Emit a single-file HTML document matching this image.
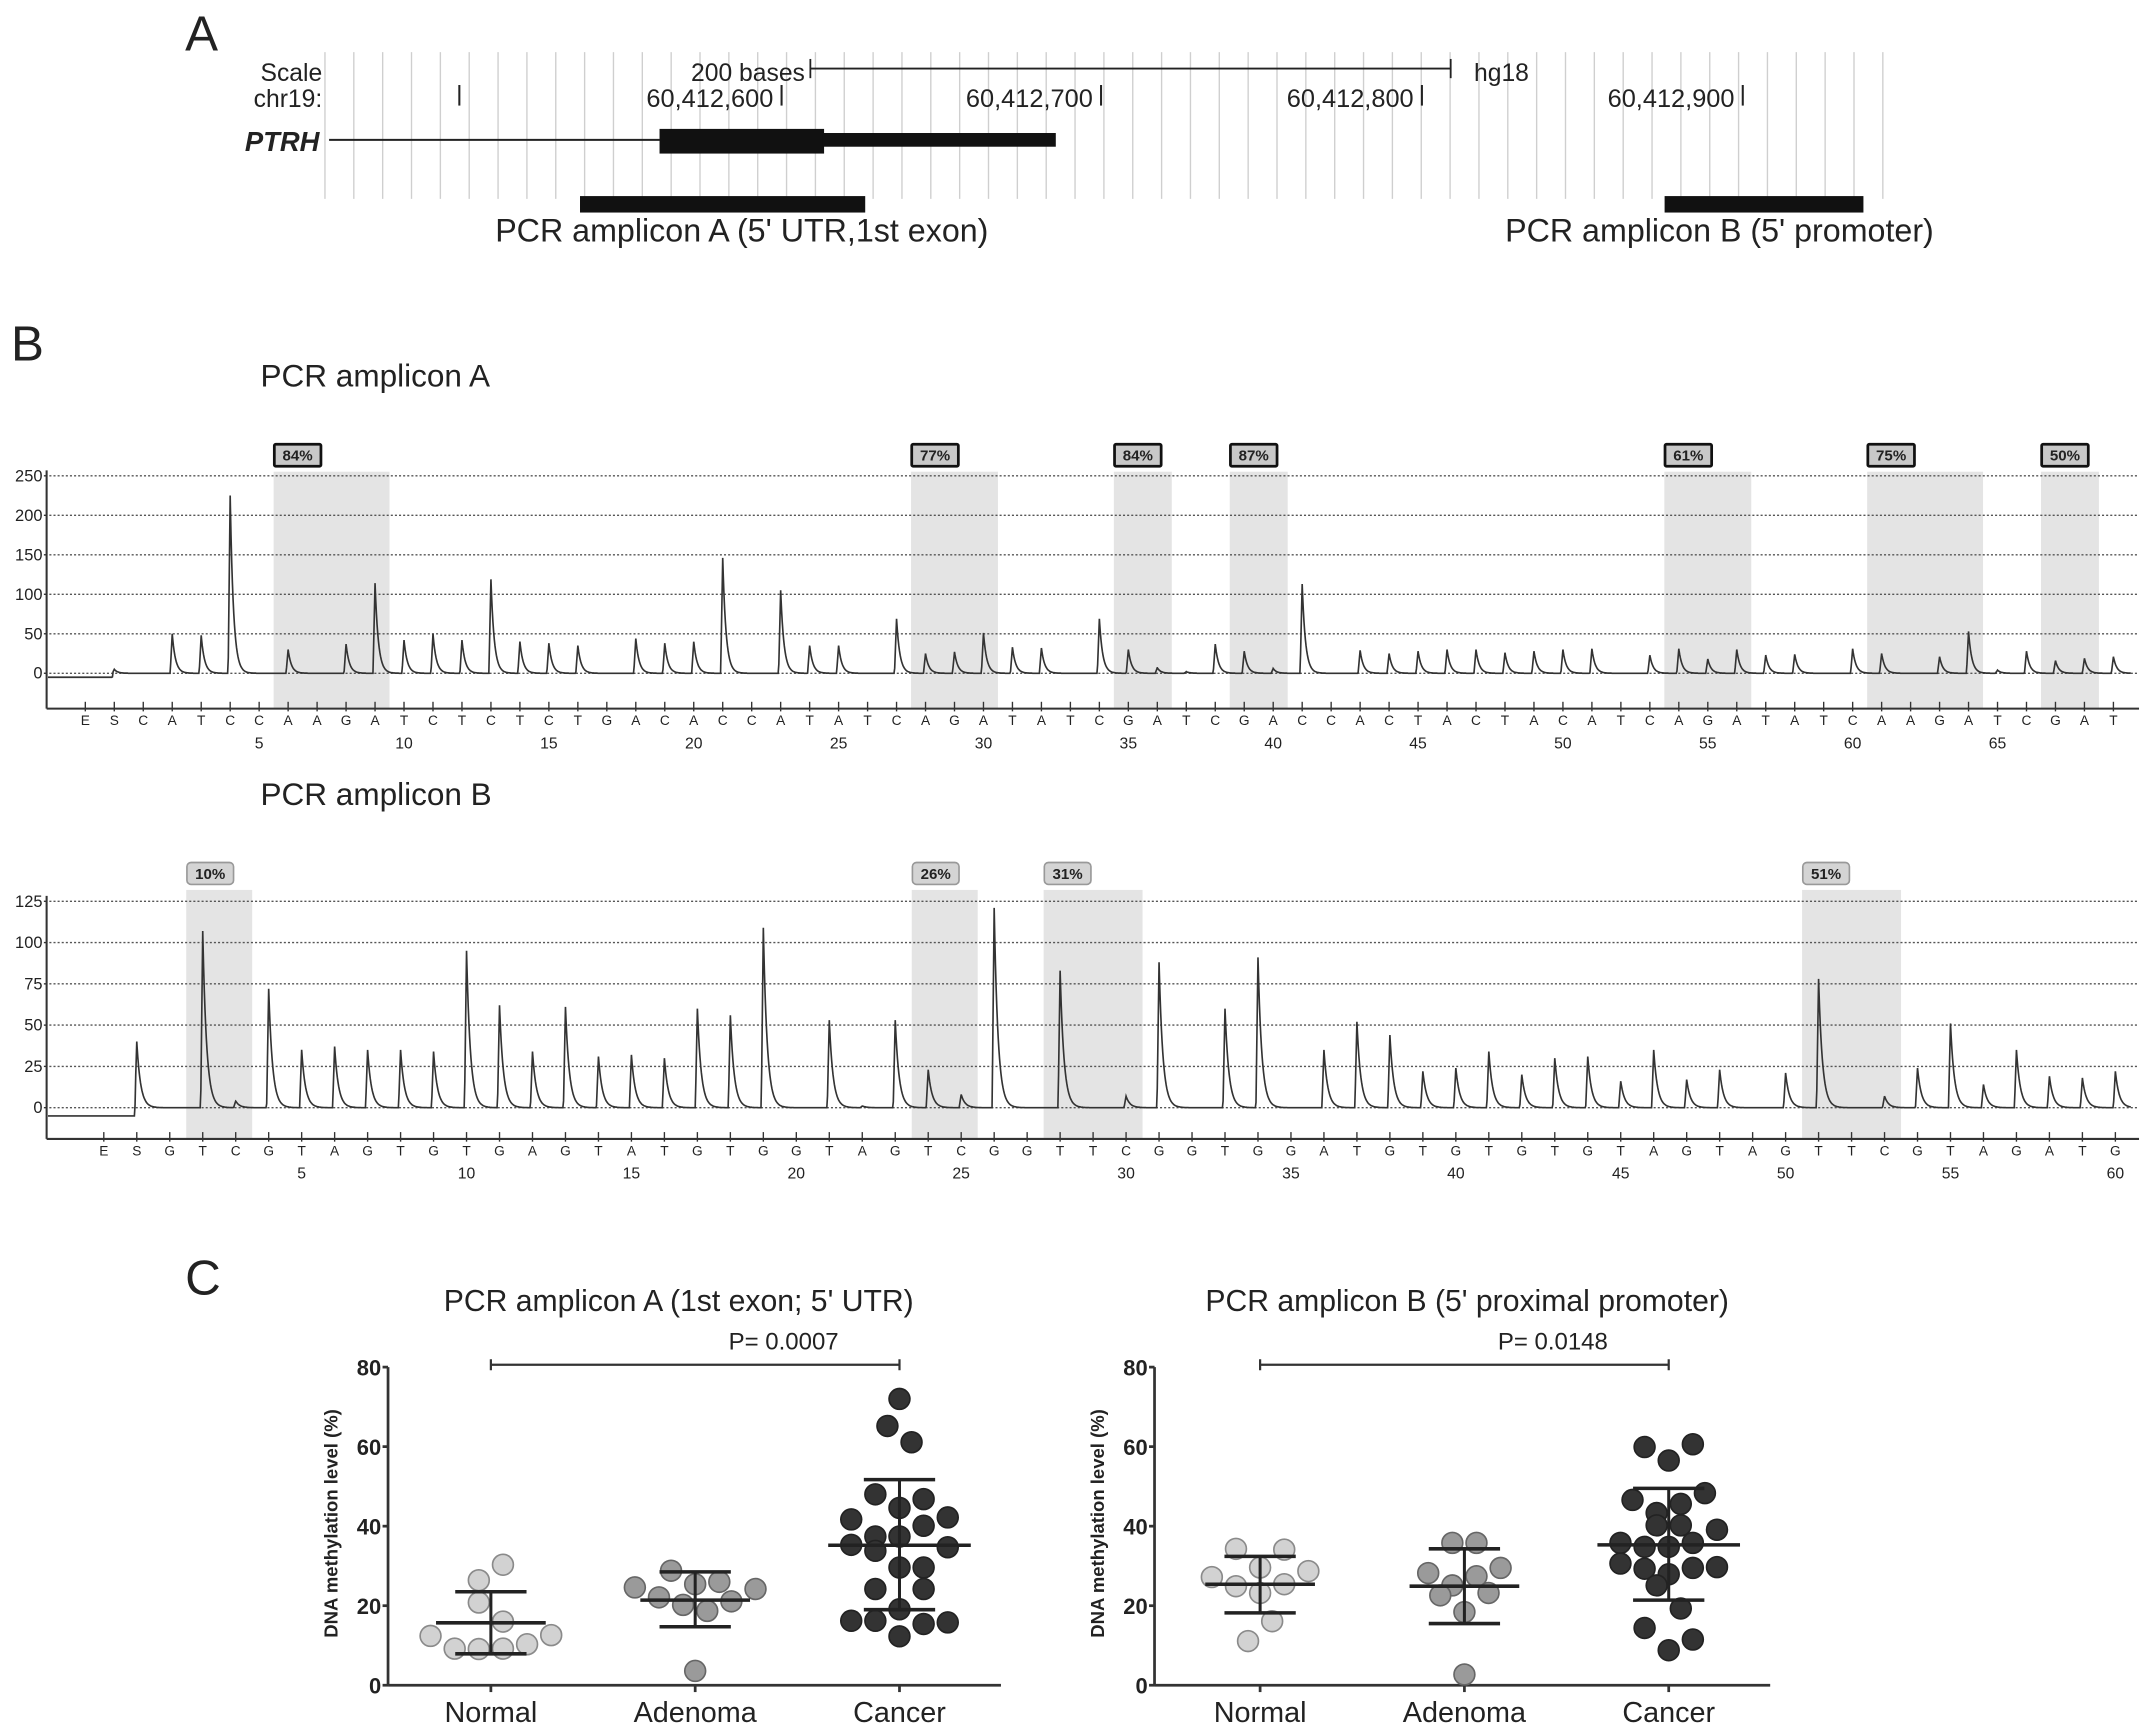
<!DOCTYPE html>
<html><head><meta charset="utf-8">
<style>
html,body{margin:0;padding:0;background:#fff;}
svg{display:block;}
text{font-family:"Liberation Sans",sans-serif;fill:#222;}
</style></head>
<body>
<svg id="fig" xmlns="http://www.w3.org/2000/svg" width="2150" height="1735" viewBox="0 0 1568 1265.3" preserveAspectRatio="none">
<rect x="0" y="0" width="1568" height="1266" fill="#fff"/>
<g id="panelA">
  <text x="135" y="37" font-size="36">A</text>
  <g id="gridA"></g>
  <text x="235" y="59" font-size="18" text-anchor="end">Scale</text>
  <text x="235" y="78" font-size="18" text-anchor="end">chr19:</text>
  <text x="587" y="59" font-size="18" text-anchor="end">200 bases</text>
  <line x1="591" y1="50" x2="1058" y2="50" stroke="#222" stroke-width="1.3"/>
  <line x1="591" y1="43" x2="591" y2="57" stroke="#222" stroke-width="1.3"/>
  <line x1="1058" y1="43" x2="1058" y2="57" stroke="#222" stroke-width="1.3"/>
  <text x="1075" y="59" font-size="18">hg18</text>
  <g id="coordsA"></g>
  <text x="233" y="110" font-size="20" font-weight="bold" font-style="italic" text-anchor="end">PTRH</text>
  <line x1="240" y1="102" x2="481" y2="102" stroke="#222" stroke-width="1.4"/>
  <rect x="481" y="94" width="120" height="18" fill="#111"/>
  <rect x="600" y="97" width="170" height="10" fill="#111"/>
  <rect x="423" y="143" width="208" height="12" fill="#111"/>
  <rect x="1214" y="143" width="145" height="12" fill="#111"/>
  <text x="541" y="176" font-size="23.5" text-anchor="middle">PCR amplicon A (5' UTR,1st exon)</text>
  <text x="1254" y="176" font-size="23.5" text-anchor="middle">PCR amplicon B (5' promoter)</text>
</g>
<text x="8" y="263" font-size="36">B</text>
<text x="190" y="282" font-size="23">PCR amplicon A</text>
<g id="pyroA"></g>
<text x="190" y="587" font-size="23">PCR amplicon B</text>
<g id="pyroB"></g>
<text x="135" y="944" font-size="36">C</text>
<g id="scatA"></g>
<g id="scatB"></g>
</svg>
<script>
// ---------- Pyrogram data ----------
const seqA = "ESCATCCAAGATCTCTCTGACACCATATCAGATATCGATCGACCACTACTACATCAGATATCAAGATCGAT";
const heightsA = [5,0,50,48,225,0,30,0,37,114,42,50,42,119,40,38,35,0,44,38,40,146,0,105,35,35,0,69,25,27,51,33,32,0,69,30,7,2,37,28,6,113,0,29,25,28,30,30,26,28,30,31,0,23,31,18,30,23,24,0,31,25,0,21,53,4,28,16,19,21];
const yTicksA = [0,50,100,150,200,250];
const shadeStartA = [6,28,35,39,54,61,67];
const shadeEndA = [9,30,36,40,56,64,68];
const shadeLabelsA = ["84%","77%","84%","87%","61%","75%","50%"];

const seqB = "ESGTCGTAGTGTGAGTATGTGGTAGTCGGTTCGGTGGATGTGTGTGTAGTAGTTCGTAGATG";
const heightsB = [40,0,107,4,72,35,37,35,35,34,95,62,34,61,31,32,30,60,56,109,0,53,1,53,23,8,121,0,83,0,7,88,0,60,91,0,35,52,44,22,24,34,20,30,31,16,35,17,23,0,21,78,0,7,24,51,14,35,19,18,22];
const yTicksB = [0,25,50,75,100,125];
const shadeStartB = [2,24,28,51];
const shadeEndB = [3,25,30,53];
const shadeLabelsB = ["10%","26%","31%","51%"];

// ---------- Scatter data ----------
const groups = ["Normal","Adenoma","Cancer"];
const aNormal = [30.3,26.4,20.8,16.0,12.4,12.6,10.3,9.2,9.1,9.2];
const aAdenoma = [28.8,25.4,26.0,24.6,24.2,22.1,20.2,21.1,18.7,3.6];
const aCancer = [72,65.2,61.1,48,46.8,44.6,41.7,40.1,42.2,35.3,37.4,37.4,33.8,34.7,29.6,29.6,24.2,24.2,19.1,16.2,16.2,15.4,15.8,12.3];
const aMean = [15.7,21.4,35.2];
const aSdHi = [23.5,28.5,51.7];
const aSdLo = [7.9,14.7,19.0];
const bNormal = [34.3,34.1,29.6,28.7,27.2,24.9,25.4,23.2,16.1,11.1];
const bAdenoma = [35.8,35.8,28.2,29.5,27.4,25.1,22.6,23.2,18.4,2.7];
const bCancer = [59.9,60.6,56.5,48.3,46.6,45.6,43.3,40.2,40.2,39.1,35.8,34.8,34.8,35.8,30.6,29.3,29.5,29.7,27.9,25.1,19.3,14.4,11.5,8.8];
const bMean = [25.4,24.9,35.3];
const bSdHi = [32.4,34.3,49.5];
const bSdLo = [18.2,15.5,21.4];
const yTicksC = [0,20,40,60,80];
// beeswarm jitter (in dot-widths)
const jitA = [[0.5,-0.5,-0.5,0.5,-2.5,2.5,1.5,-1.5,-0.5,0.5],[-1,0,1,-2.5,2.5,-1.5,-0.5,1.5,0.5,0],[0,-0.5,0.5,-1,1,0,-2,1,2,-2,-1,0,-1,2,0,1,-1,1,0,-2,-1,1,2,0]];
const jitB = [[-1,1,0,2,-2,-1,1,0,0.5,-0.5],[-0.5,0.5,-1.5,1.5,0.5,-0.5,-1,1,0,0],[-1,1,0,1.5,-1.5,0.5,-0.5,-0.5,0.5,2,-2,-1,0,1,-2,-1,1,2,0,-0.5,0.5,-1,1,0]];

const NS = "http://www.w3.org/2000/svg";
function mk(tag, attrs, parent){const e=document.createElementNS(NS,tag);for(const k in attrs)e.setAttribute(k,attrs[k]);parent.appendChild(e);return e;}

// ---------- Panel A grid ----------
(function(){
  const g=document.getElementById('gridA');
  for(let x=237;x<=1394;x+=21.04){
    const l=mk('line',{x1:x,y1:38,x2:x,y2:145,stroke:'#cfcfcf','stroke-width':1},g);
    
    
  }
  const c=document.getElementById('coordsA');
  const tickX=[335,570,803,1037,1271];
  const labs=["","60,412,600","60,412,700","60,412,800","60,412,900"];
  tickX.forEach((x,i)=>{
    const l=mk('line',{x1:x,y1:62,x2:x,y2:77,stroke:'#222','stroke-width':1.5},c);
    
    
    if(labs[i]){const t=mk('text',{x:x-6,y:78,'font-size':18.5,'text-anchor':'end'},c);t.textContent=labs[i];
    
    }
  });
})();

// ---------- Pyrograms ----------
function pyro(gid, seq, heights, yTicks, y0, pxPerUnit, xk, axisY, shadeTop, sS, sE, sL, boxY, lightBoxes, tau){
  const g=document.getElementById(gid);
  const yS=v=>y0-v*pxPerUnit;
  const xL=34, xR=1560;
  const half=(xk(1)-xk(0))/2;
  sS.forEach((s,i)=>{
    const x1=xk(s)-half, x2=xk(sE[i])+half;
    const r=mk('rect',{x:x1,y:shadeTop,width:x2-x1,height:axisY-shadeTop,fill:'#e4e4e4'},g);
    
    
    const b=mk('rect',{x:x1+0.5,y:boxY,width:34,height:16,rx:lightBoxes?3:1,fill:lightBoxes?'#d4d4d4':'#c8c8c8',stroke:lightBoxes?'#999':'#111','stroke-width':lightBoxes?1.2:2},g);
    
    
    const t=mk('text',{x:x1+17.5,y:boxY+12,'font-size':11,'font-weight':'bold','text-anchor':'middle'},g);
    t.textContent=sL[i];
    
    
  });
  yTicks.forEach(v=>{
    const l=mk('line',{x1:xL+2,y1:yS(v),x2:xR,y2:yS(v),stroke:'#555','stroke-width':1,'stroke-dasharray':'1.5 1.5'},g);
    
    
    const t=mk('text',{x:xL-3,y:yS(v)+4,'font-size':12,'text-anchor':'end',fill:'#333'},g);
    t.textContent=v;
    
    
    mk('line',{x1:xL-2,y1:yS(v),x2:xL,y2:yS(v),stroke:'#333'},g);
  });
  const ya=mk('line',{x1:xL,y1:yS(yTicks[yTicks.length-1])-4,x2:xL,y2:axisY,stroke:'#333','stroke-width':1.5},g);
  
  
  const xa=mk('line',{x1:xL,y1:axisY,x2:xR,y2:axisY,stroke:'#333','stroke-width':1.5},g);
  
  
  for(let i=0;i<seq.length;i++){
    const k=i-1, x=xk(k);
    mk('line',{x1:x,y1:axisY-5,x2:x,y2:axisY+2,stroke:'#333','stroke-width':1},g);
    const t=mk('text',{x:x,y:axisY+12,'font-size':10,'text-anchor':'middle',fill:'#333','font-family':'Liberation Mono, monospace'},g);
    t.textContent=seq[i];
    
    
    if(k>0 && k%5===0){
      const n=mk('text',{x:x,y:axisY+29,'font-size':11.5,'text-anchor':'middle',fill:'#333'},g);
      n.textContent=k;
      
      
    }
  }
  const xs=[];
  for(let x=xL+1;x<=xR-6;x+=0.5) xs.push(x);
  for(let k=0;k<heights.length;k++) if(heights[k]) xs.push(xk(k));
  xs.sort((a,b)=>a-b);
  let d='';
  xs.forEach(x=>{
    let v=(x<xk(0)-1)?-5:0;
    for(let k=0;k<heights.length;k++){
      const h=heights[k]; if(!h) continue;
      const dd=x-xk(k);
      if(dd>=-1.5&&dd<0) v+=h*(1+dd/1.5);
      else if(dd>=0&&dd<40) v+=h*Math.exp(-dd/tau);
    }
    d+=(d?'L':'M')+x.toFixed(2)+','+yS(v).toFixed(1);
  });
  const p=mk('path',{d:d,fill:'none',stroke:'#333','stroke-width':1.2},g);
  
  
}
pyro('pyroA',seqA,heightsA,yTicksA,491,(491-347)/250,k=>189+(k-5)*21.13,516.8,344,shadeStartA,shadeEndA,shadeLabelsA,324,false,2.4);
pyro('pyroB',seqB,heightsB,yTicksB,807.8,(807.8-657.3)/125,k=>75.7+(k+1)*24.05,830.6,649,shadeStartB,shadeEndB,shadeLabelsB,629,true,2.8);

// ---------- Scatter plots ----------
function scatter(gid, axX, catX, endX, titleX, title, pText, series, jit, means, hi, lo){
  const g=document.getElementById(gid);
  const y0=1229, y80=997;
  const yS=v=>y0-(v/80)*(y0-y80);
  const tt=mk('text',{x:titleX,y:956,'font-size':22,'text-anchor':'middle'},g);
  tt.textContent=title;
  
  
  const ya=mk('line',{x1:axX,y1:y80,x2:axX,y2:y0,stroke:'#333','stroke-width':2},g);
  
  
  const xa=mk('line',{x1:axX,y1:y0,x2:endX,y2:y0,stroke:'#333','stroke-width':2},g);
  
  
  yTicksC.forEach(v=>{
    mk('line',{x1:axX-4,y1:yS(v),x2:axX,y2:yS(v),stroke:'#333','stroke-width':2},g);
    const t=mk('text',{x:axX-5,y:yS(v)+6,'font-size':16,'font-weight':'bold','text-anchor':'end'},g);
    t.textContent=v;
    
    
  });
  const yl=mk('text',{x:0,y:0,'font-size':13.5,'font-weight':'bold','text-anchor':'middle',transform:`translate(${axX-37},1111) rotate(-90)`},g);
  yl.textContent='DNA methylation level (%)';
  
  
  const fills=['#d2d2d2','#9a9a9a','#333333'];
  const strokes=['#8a8a8a','#666','#222'];
  groups.forEach((gname,i)=>{
    mk('line',{x1:catX[i],y1:y0,x2:catX[i],y2:y0+5,stroke:'#333','stroke-width':2},g);
    const t=mk('text',{x:catX[i],y:1256,'font-size':21,'text-anchor':'middle'},g);
    t.textContent=gname;
    
    
    series[i].forEach((v,j)=>{
      const c=mk('circle',{cx:catX[i]+jit[i][j]*17.6,cy:yS(v),r:7.6,fill:fills[i],stroke:strokes[i],'stroke-width':1.2},g);
      
      
    });
    const w=i===2?52:40;
    const m=mk('line',{x1:catX[i]-w,y1:yS(means[i]),x2:catX[i]+w,y2:yS(means[i]),stroke:'#222','stroke-width':2.6},g);
    
    
    const s=mk('line',{x1:catX[i],y1:yS(hi[i]),x2:catX[i],y2:yS(lo[i]),stroke:'#222','stroke-width':2.2},g);
    
    
    [hi[i],lo[i]].forEach(v=>{
      const c=mk('line',{x1:catX[i]-26,y1:yS(v),x2:catX[i]+26,y2:yS(v),stroke:'#222','stroke-width':2.6},g);
      
      
    });
  });
  const by=yS(80.6);
  const br=mk('path',{d:`M${catX[0]},${by-4}V${by+4}M${catX[0]},${by}H${catX[2]}M${catX[2]},${by-4}V${by+4}`,fill:'none',stroke:'#333','stroke-width':1.6},g);
  
  
  const pt=mk('text',{x:(catX[1]+catX[2])/2-10,y:by-11,'font-size':17.5,'text-anchor':'middle'},g);
  pt.textContent=pText;
  
  
}
scatter('scatA',283,[358,507,656],730,495,"PCR amplicon A (1st exon; 5' UTR)","P= 0.0007",[aNormal,aAdenoma,aCancer],jitA,aMean,aSdHi,aSdLo);
scatter('scatB',842,[919,1068,1217],1291,1070,"PCR amplicon B (5' proximal promoter)","P= 0.0148",[bNormal,bAdenoma,bCancer],jitB,bMean,bSdHi,bSdLo);
</script>
</body></html>
